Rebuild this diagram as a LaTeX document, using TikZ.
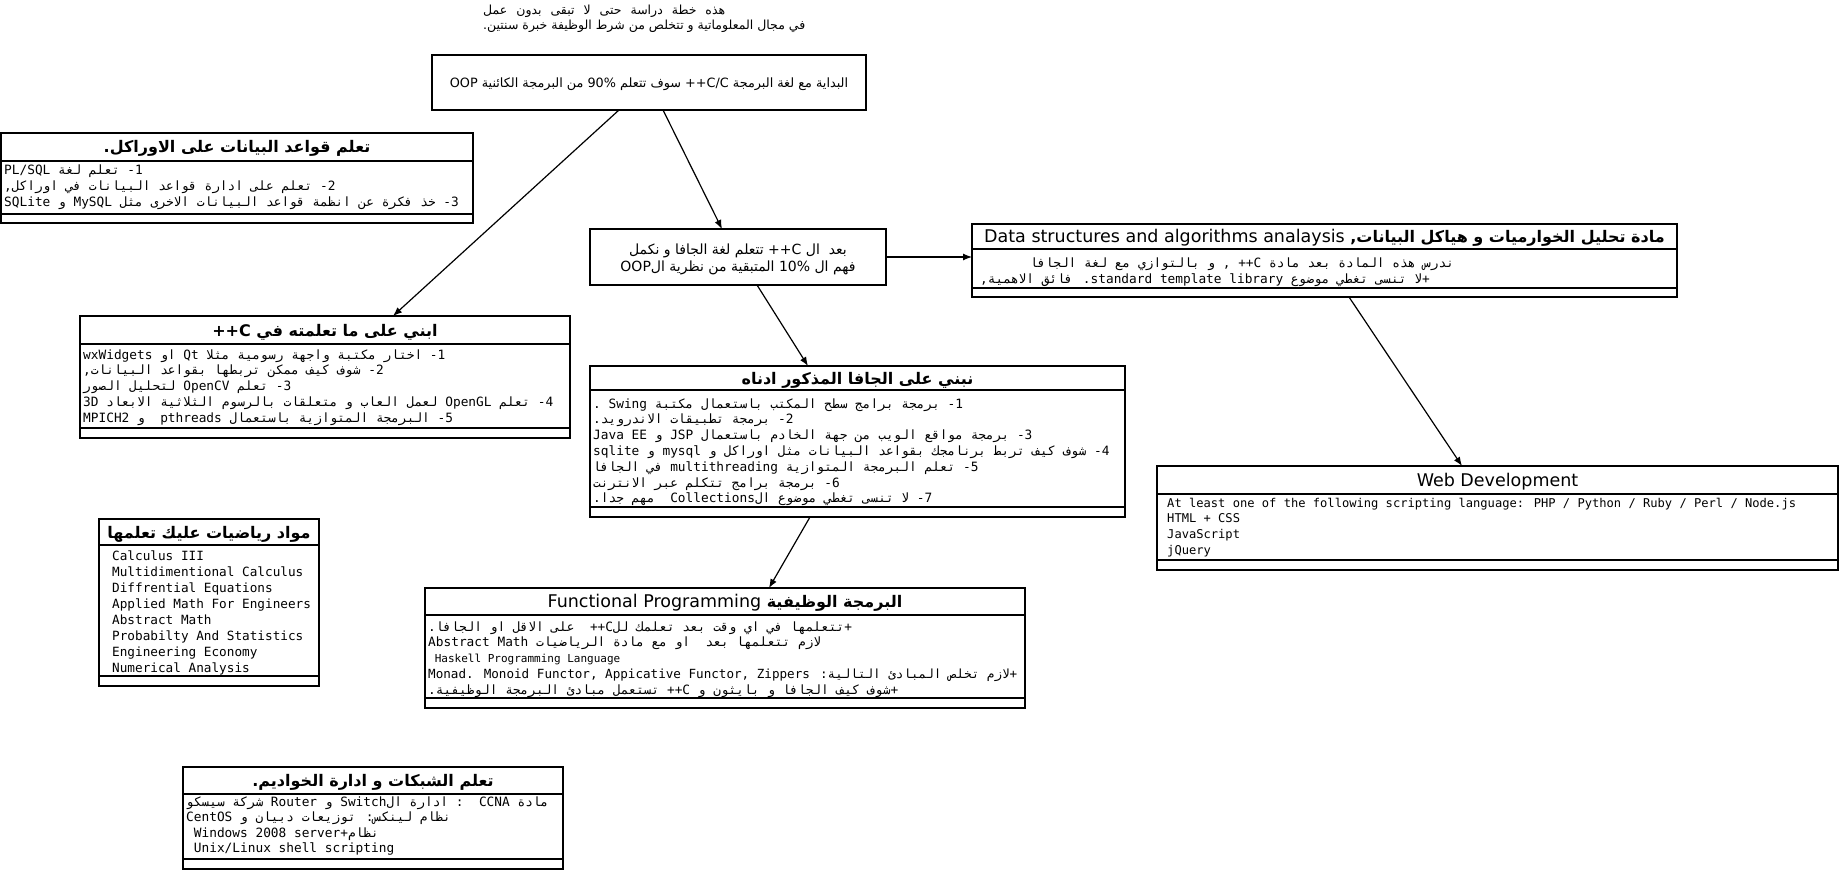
\documentclass[tikz,border=0pt]{standalone}
\usepackage{fontspec}
\usetikzlibrary{arrows.meta,calc}
\TeXXeTstate=1
\newfontfamily\arb[Script=Arabic]{DejaVu Sans}
\newfontfamily\amono[Script=Arabic]{DejaVu Sans Mono}
\newfontfamily\lmono{DejaVu Sans Mono}
\newfontfamily\lsans{DejaVu Sans}
\newcommand\R[1]{\beginR #1\endR}
\newcommand\Lt[1]{\beginL #1\endL}
\newcommand\LatT[1]{{\lsans\mdseries\fontsize{17.5}{19}\selectfont #1}}
\newcommand\umlbox[7]{%
  \node[box, minimum width={(#4)-(#2)}, minimum height={(#5)-(#3)}] (#1) at (#2,#3) {};
  \draw[sepl] (#2,#6) -- (#4,#6);
  \draw[sepl] (#2,#7) -- (#4,#7);}
\tikzset{
  box/.style={draw, line width=1.8pt, inner sep=0pt, outer sep=0pt, anchor=north west, rectangle},
  sepl/.style={line width=1.8pt},
  arr/.style={-{Latex[length=9pt,width=7pt]}, line width=1.2pt},
  ln/.style={anchor=base west, inner sep=0pt},
  ttl/.style={anchor=base, inner sep=0pt, font={\arb\bfseries\fontsize{16}{18}\selectfont}},
  bodyA/.style={font={\amono\fontsize{12.8}{15}\selectfont}},
  bodyL/.style={font={\lmono\fontsize{12.8}{15}\selectfont}},
}
\begin{document}
\begin{tikzpicture}[x=1pt,y=-1pt]
\useasboundingbox (0,0) rectangle (1841,872);
% intro text
\node[ln, font={\arb\fontsize{12.5}{14}\selectfont}] (intro1) at (483,15) {\hbox to 242pt{\spaceskip=3.5pt plus 40pt\R{هذه خطة دراسة حتى لا تبقى بدون عمل}}};
\node[ln, font={\arb\fontsize{12.5}{14}\selectfont}] (intro2) at (483,30) {\R{في مجال المعلوماتية و تتخلص من شرط الوظيفة خبرة سنتين.}};
% start box
\node[box, minimum width=434, minimum height=55] (top) at (432,55) {};
\node[anchor=base, inner sep=0pt, font={\arb\fontsize{12.8}{15}\selectfont}] (toptext) at (649,88) {\R{البداية مع لغة البرمجة ++C/C سوف تتعلم 90\% من البرمجة الكائنية OOP}};
% java mid box
\node[box, minimum width=296, minimum height=56] (jmid) at (590,229) {};
\node[anchor=base, inner sep=0pt, font={\arb\fontsize{14}{16}\selectfont}] (jmid1) at (738,254) {\R{بعد\ \ ال ++C تتعلم لغة الجافا و نكمل}};
\node[anchor=base, inner sep=0pt, font={\arb\fontsize{14}{16}\selectfont}] (jmid2) at (738,271) {\R{فهم ال 10\% المتبقية من نظرية الOOP}};
% oracle
\umlbox{oracle}{1}{133}{473}{223}{161}{214}
\node[ttl] (oracleT) at (237,153) {\R{تعلم قواعد البيانات على الاوراكل.}};
\foreach \t [count=\i from 0] in {{\R{1- تعلم لغة PL/SQL}},{\R{2- تعلم على ادارة قواعد البيانات في اوراكل,}},{\R{3- خذ فكرة عن انظمة قواعد البيانات الاخرى مثل MySQL و SQLite}}}
  \node[ln, bodyA] (oracle-\i) at (4,{175+\i*15.5}) {\t};
% c++
\umlbox{cpp}{80}{316}{570}{438}{344}{428}
\node[ttl] (cppT) at (325,336) {\R{ابني على ما تعلمته في ++C}};
\foreach \t [count=\i from 0] in {{\R{1- اختار مكتبة واجهة رسومية مثلا Qt او wxWidgets}},{\R{2- شوف كيف ممكن تربطها بقواعد البيانات,}},{\R{3- تعلم OpenCV لتحليل الصور}},{\R{4- تعلم OpenGL لعمل العاب و متعلقات بالرسوم الثلاثية الابعاد 3D}},{\R{5- البرمجة المتوازية باستعمال pthreads\ \ و MPICH2}}}
  \node[ln, bodyA] (cpp-\i) at (83,{359+\i*15.8}) {\t};
% data structures
\umlbox{ds}{972}{224}{1677}{297}{249}{288}
\node[ttl] (dsT) at (1324.5,242) {\R{مادة تحليل الخوارميات و هياكل البيانات, \Lt{\LatT{Data structures and algorithms analaysis}}}};
\node[ln, bodyA] (ds-0) at (1030,267) {\R{ندرس هذه المادة بعد مادة ++C , و بالتوازي مع لغة الجافا}};
\node[ln, bodyA] (ds-1) at (980,283) {\R{+لا تنسى تغطي موضوع \Lt{standard template library}. فائق الاهمية,}};
% java below
\umlbox{jbel}{590}{366}{1125}{517}{390}{507}
\node[ttl] (jbelT) at (857.5,384) {\R{نبني على الجافا المذكور ادناه}};
\foreach \t [count=\i from 0] in {{\R{1- برمجة برامج سطح المكتب باستعمال مكتبة Swing .}},{\R{2- برمجة تطبيقات الاندرويد.}},{\R{3- برمجة مواقع الويب من جهة الخادم باستعمال JSP و \Lt{Java EE}}},{\R{4- شوف كيف تربط برنامجك بقواعد البيانات مثل اوراكل و mysql و sqlite}},{\R{5- تعلم البرمجة المتوازية multithreading في الجافا}},{\R{6- برمجة برامج تتكلم عبر الانترنت}},{\R{7- لا تنسى تغطي موضوع الCollections\ \ مهم جدا.}}}
  \node[ln, bodyA] (jbel-\i) at (593,{408+\i*15.8}) {\t};
% web
\umlbox{web}{1157}{466}{1838}{570}{494}{560}
\node[anchor=base, inner sep=0pt] (webT) at (1497.5,486) {\LatT{Web Development}};
\foreach \t [count=\i from 0] in {{At least one of the following scripting language: PHP / Python / Ruby / Perl / Node.js},{HTML + CSS},{JavaScript},{jQuery}}
  \node[ln, font={\lmono\fontsize{12.1}{14}\selectfont}] (web-\i) at (1167,{507+\i*15.7}) {\t};
% math
\umlbox{math}{99}{519}{319}{686}{545}{676}
\node[ttl] (mathT) at (209,538) {\R{مواد رياضيات عليك تعلمها}};
\foreach \t [count=\i from 0] in {Calculus III,Multidimentional Calculus,Diffrential Equations,Applied Math For Engineers,Abstract Math,Probabilty And Statistics,Engineering Economy,Numerical Analysis}
  \node[ln, font={\lmono\fontsize{12.7}{15}\selectfont}] (math-\i) at (112,{560+\i*16}) {\t};
% functional
\umlbox{func}{425}{588}{1025}{708}{615}{698}
\node[ttl] (funcT) at (725,607) {\R{البرمجة الوظيفية \Lt{\LatT{Functional Programming}}}};
\node[ln, bodyA] (func-0) at (428,631) {\R{+تتعلمها في اي وقت بعد تعلمك للC++\ \ على الاقل او الجافا.}};
\node[ln, bodyA] (func-1) at (428,646.8) {\R{لازم تتعلمها بعد\ \ او مع مادة الرياضيات \Lt{Abstract Math}}};
\node[ln, font={\lmono\fontsize{11}{13}\selectfont}] (func-2) at (428,662.6) {\ Haskell Programming Language};
\node[ln, font={\amono\fontsize{12.6}{15}\selectfont}] (func-3) at (428,678.4) {\R{+لازم تخلص المبادئ التالية: \Lt{Monad. Monoid Functor, Appicative Functor, Zippers}}};
\node[ln, bodyA] (func-4) at (428,694.2) {\R{+شوف كيف الجافا و بايثون و ++C تستعمل مبادئ البرمجة الوظيفية.}};
% networks
\umlbox{net}{183}{767}{563}{869}{794}{859}
\node[ttl] (netT) at (373,786) {\R{تعلم الشبكات و ادارة الخواديم.}};
\foreach \t [count=\i from 0] in {{\R{مادة CCNA\ \ : ادارة الSwitch و Router شركة سيسكو}},{\R{نظام لينكس: توزيعات دبيان و CentOS}},{\ Windows 2008 server+نظام},{\ Unix/Linux shell scripting}}
  \node[ln, bodyA] (net-\i) at (186,{806+\i*15.5}) {\t};
% connectors
\draw[arr] ([xshift=-30pt]top.south) -- ([xshift=68pt]cpp.north);
\draw[arr] ([xshift=14pt]top.south) -- ([xshift=-16pt]jmid.north);
\draw[arr] (jmid.east) -- (jmid.east -| ds.west);
\draw[arr] ([xshift=19pt]jmid.south) -- ([xshift=-49.5pt]jbel.north);
\draw[arr] ([xshift=-47.5pt]jbel.south) -- ([xshift=44pt]func.north);
\draw[arr] ([xshift=24.5pt]ds.south) -- ([xshift=-35.5pt]web.north);
\end{tikzpicture}
\end{document}
